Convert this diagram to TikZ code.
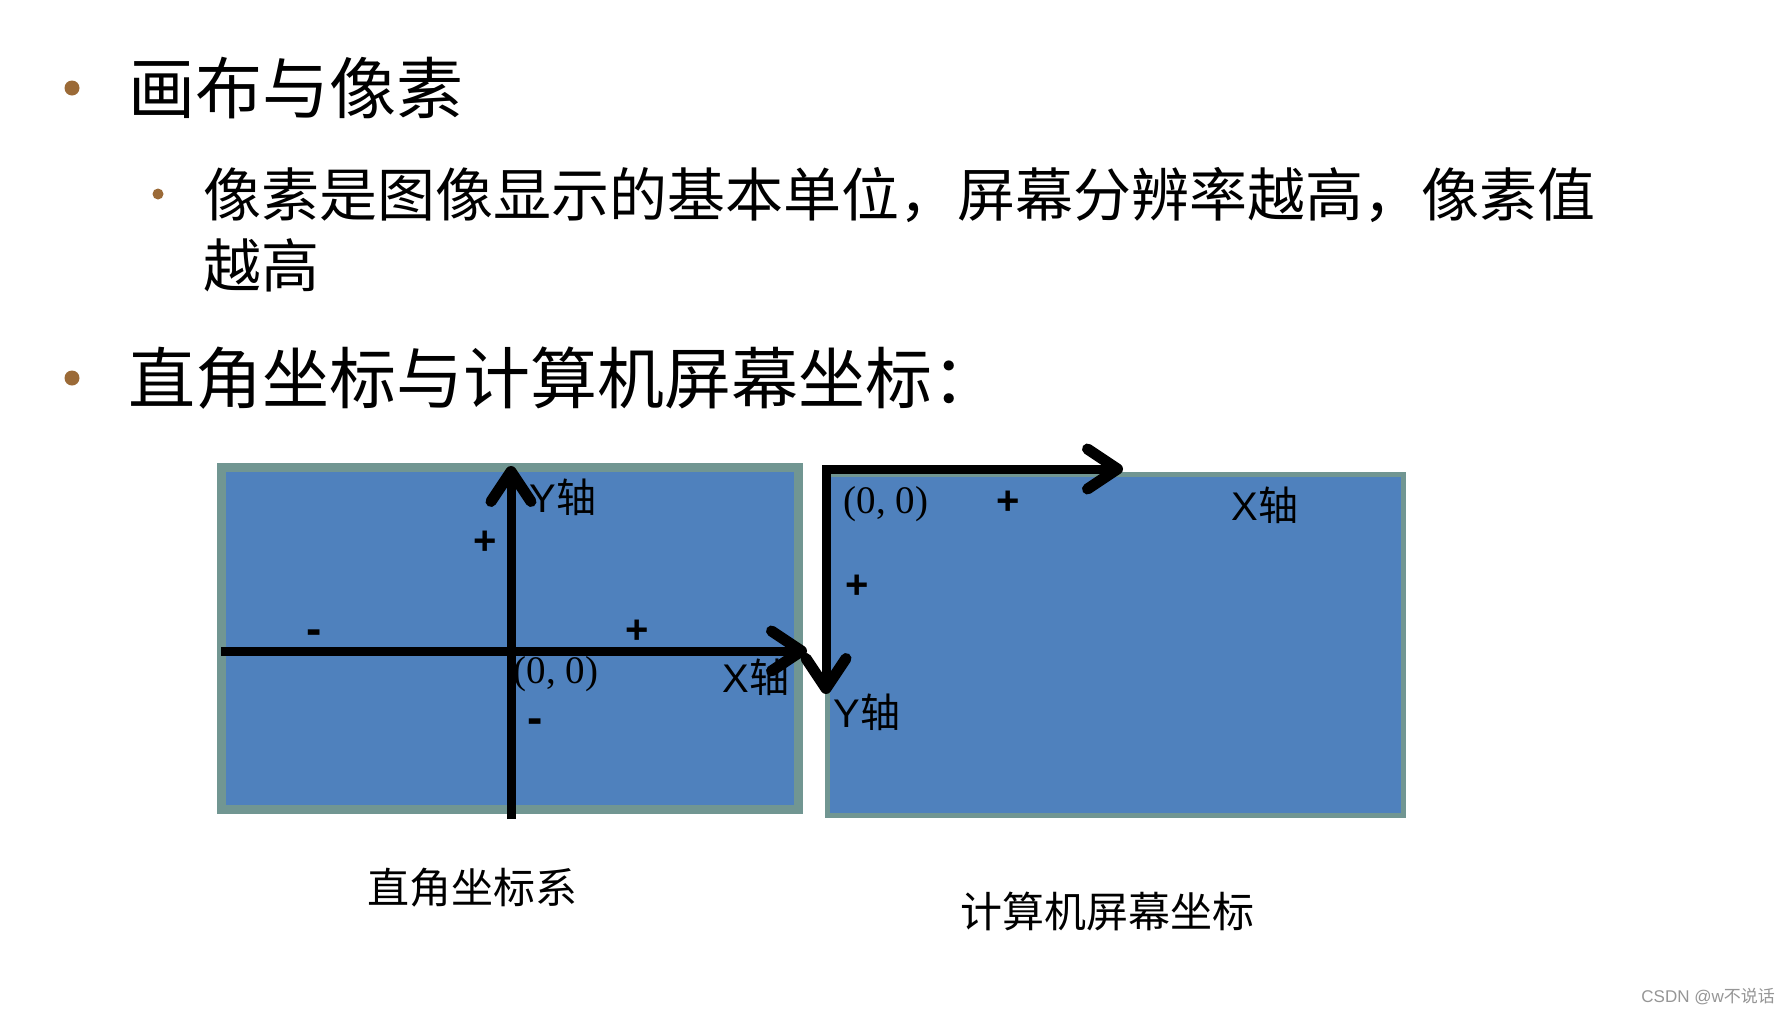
\documentclass[tikz,border=0pt]{standalone}
\usepackage{fontspec}
\setmainfont{Liberation Sans}
\newfontfamily\cjk{Noto Sans CJK SC}
\newfontfamily\tms{Liberation Serif}
\usetikzlibrary{arrows.meta}
\definecolor{boxblue}{RGB}{79,129,189}
\definecolor{boxedge}{RGB}{113,150,146}
\definecolor{bulletbrown}{RGB}{155,106,55}
\definecolor{wmgray}{RGB}{150,150,150}
\tikzset{
  barb/.tip={Straight Barb[length=30pt,width=40pt,line width=11pt,round]},
  axisline/.style={line width=9pt, line join=miter, -barb},
  sign/.style={font=\fontsize{40}{44}\selectfont\bfseries, inner sep=0pt},
  minus/.style={font=\fontsize{46}{50}\selectfont\bfseries, inner sep=0pt},
  axlabel/.style={font=\fontsize{40}{44}\selectfont, inner sep=0pt},
  origin/.style={font=\fontsize{39}{44}\selectfont\tms, inner sep=0pt},
  caption/.style={font=\fontsize{42}{48}\selectfont\cjk, inner sep=0pt},
  title/.style={font=\fontsize{67}{80}\selectfont\cjk, inner sep=0pt, anchor=west},
}
\begin{document}
\begin{tikzpicture}[x=1pt,y=-1pt]
\useasboundingbox (0,0) rectangle (1792,1015);
\fill[white] (0,0) rectangle (1792,1015);

% bullets and headings
\fill[bulletbrown] (72,88) circle (7.5);
\node[title] (t1) at (128,88) {画布与像素};
\fill[bulletbrown] (158,194) circle (5.5);
\node[font=\fontsize{58}{71}\selectfont\cjk, inner sep=0pt, anchor=west, align=left] (t2) at (203,229.5)
  {像素是图像显示的基本单位，屏幕分辨率越高，像素值\\越高};
\fill[bulletbrown] (72,378) circle (7.5);
\node[title] (t3) at (128,378) {直角坐标与计算机屏幕坐标：};

% left box: Cartesian
\draw[fill=boxblue, draw=boxedge, line width=9pt] (221.5,467.5) rectangle (798.5,809.5);
\coordinate (lxs) at (221,651);
\coordinate (lxe) at (807,651);
\coordinate (lys) at (511,819);
\coordinate (lye) at (511,466);
\draw[axisline] (lxs) -- (lxe);
\draw[axisline] (lys) -- (lye);
\node[axlabel] (ly) at (563,497) {Y{\cjk 轴}};
\node[axlabel] (lx) at (756,677) {X{\cjk 轴}};
\node[origin] (lo) at (556,674) {(0, 0)};
\node[sign] (lp1) at (485,543) {+};
\node[minus] (lm1) at (314,637) {-};
\node[sign] (lp2) at (637,632) {+};
\node[minus] (lm2) at (535,726) {-};

% right box: screen
\draw[fill=boxblue, draw=boxedge, line width=5pt] (827.5,474.5) rectangle (1403.5,815.5);
\coordinate (rc) at (826,469);
\coordinate (rxe) at (1123,469);
\coordinate (rye) at (826,694);
\draw[line width=9pt, line join=miter, barb-barb] (rxe) -- (rc) -- (rye);
\node[origin] (ro) at (886,504) {(0, 0)};
\node[sign] (rp1) at (1008,503) {+};
\node[axlabel] (rx) at (1265,505) {X{\cjk 轴}};
\node[sign] (rp2) at (857,587) {+};
\node[axlabel] (ry) at (867,712) {Y{\cjk 轴}};

% captions
\node[caption] (c1) at (472,888) {直角坐标系};
\node[caption] (c2) at (1107,911) {计算机屏幕坐标};

% watermark
\node[font=\fontsize{17}{20}\selectfont, text=wmgray, inner sep=0pt, anchor=east] (wm) at (1775,997) {CSDN @w{\cjk 不说话}};
\end{tikzpicture}
\end{document}
